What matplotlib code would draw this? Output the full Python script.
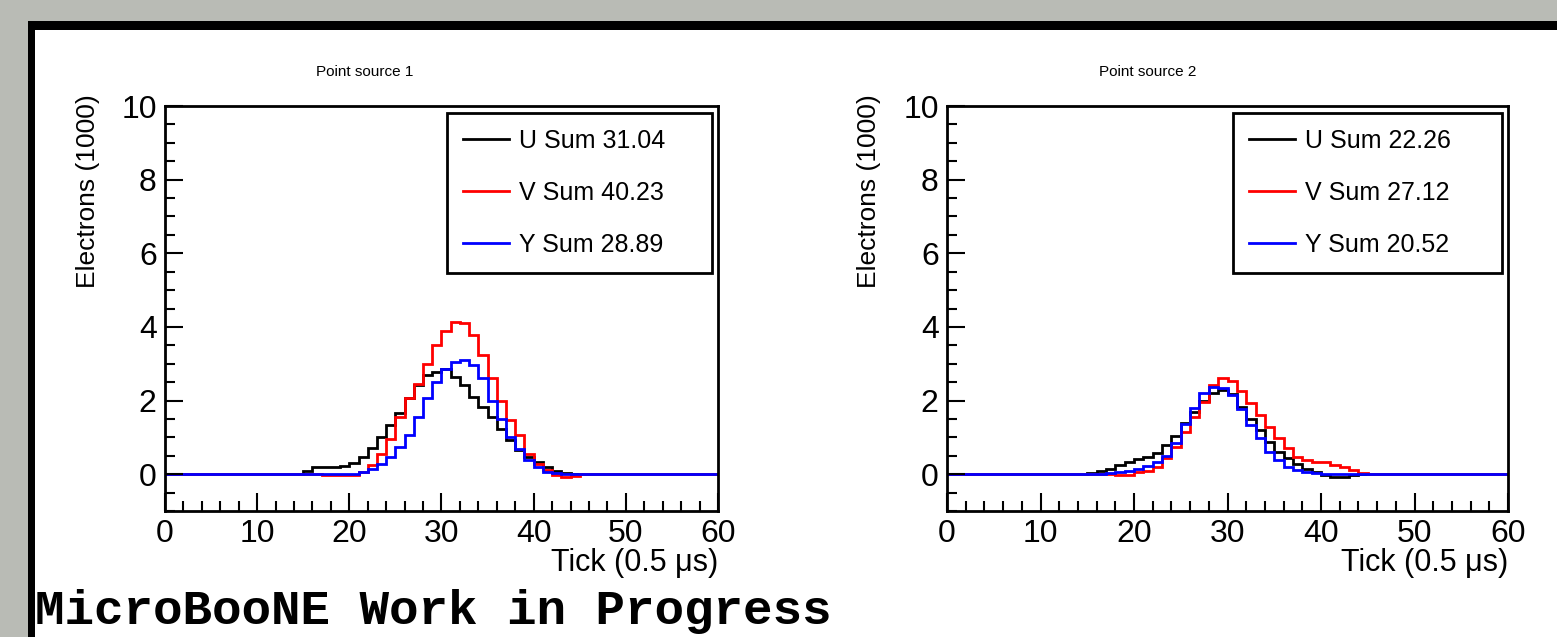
import numpy as np
import matplotlib
matplotlib.use('Agg')
import matplotlib.pyplot as plt
from matplotlib.patches import Rectangle
from matplotlib.lines import Line2D

plt.rcParams['font.family'] = ['Liberation Sans', 'DejaVu Sans']

# bin edges: ticks 0..60, one bin per tick
edges = np.arange(0, 61)

# Point source 1 (electrons / 1000), bins 15..44
ps1_start = 15
ps1_u = [0.10, 0.20, 0.20, 0.20, 0.22, 0.30, 0.47, 0.70, 1.00, 1.33,
         1.65, 2.06, 2.42, 2.69, 2.78, 2.85, 2.65, 2.42, 2.10, 1.83,
         1.56, 1.24, 0.92, 0.65, 0.47, 0.33, 0.20, 0.09, 0.03, 0.00]
ps1_v = [0.00, 0.00, -0.03, -0.03, -0.03, -0.03, 0.07, 0.24, 0.56, 0.95,
         1.55, 2.06, 2.45, 3.00, 3.50, 3.90, 4.14, 4.10, 3.78, 3.23,
         2.60, 2.00, 1.47, 1.06, 0.56, 0.29, 0.11, -0.03, -0.07, -0.05]
ps1_y = [0.00, 0.00, 0.00, 0.00, 0.00, 0.00, 0.05, 0.15, 0.29, 0.47,
         0.74, 1.06, 1.56, 2.06, 2.50, 2.87, 3.06, 3.10, 2.96, 2.60,
         2.00, 1.50, 1.00, 0.69, 0.38, 0.20, 0.06, 0.02, 0.00, 0.00]

# Point source 2, bins 15..44
ps2_start = 15
ps2_u = [0.03, 0.08, 0.15, 0.24, 0.32, 0.40, 0.48, 0.58, 0.78, 1.05,
         1.38, 1.70, 2.00, 2.20, 2.30, 2.19, 1.83, 1.51, 1.20, 0.88,
         0.60, 0.43, 0.29, 0.15, 0.06, -0.03, -0.07, -0.07, -0.03, 0.00]
ps2_v = [0.00, 0.00, 0.00, -0.02, -0.02, 0.05, 0.10, 0.20, 0.45, 0.75,
         1.15, 1.55, 1.95, 2.42, 2.60, 2.52, 2.25, 1.92, 1.60, 1.29,
         0.97, 0.70, 0.47, 0.38, 0.34, 0.32, 0.25, 0.20, 0.11, 0.03]
ps2_y = [0.00, 0.00, 0.02, 0.05, 0.10, 0.15, 0.22, 0.32, 0.50, 0.85,
         1.35, 1.80, 2.20, 2.37, 2.35, 2.15, 1.78, 1.33, 0.97, 0.60,
         0.38, 0.20, 0.11, 0.05, 0.03, 0.00, 0.00, 0.00, 0.00, 0.00]

sums1 = ['U Sum 31.04', 'V Sum 40.23', 'Y Sum 28.89']
sums2 = ['U Sum 22.26', 'V Sum 27.12', 'Y Sum 20.52']
titles = ['Point source 1', 'Point source 2']
colors = ['black', 'red', 'blue']


def full(vals, start):
    h = np.zeros(60)
    h[start:start + len(vals)] = vals
    return h


W, H = 1557, 637
fig = plt.figure(figsize=(W / 100, H / 100), dpi=100)
fig.patch.set_facecolor('#b9bbb5')
# black frame + white canvas
fig.patches.append(Rectangle((28 / W, -0.1), 1.2, 1 - 21 / H + 0.1,
                             transform=fig.transFigure, facecolor='black',
                             edgecolor='none', zorder=-10))
fig.patches.append(Rectangle((35 / W, -0.1), 1.2, 1 - 30 / H + 0.1,
                             transform=fig.transFigure, facecolor='white',
                             edgecolor='none', zorder=-9))

panels = [
    (165, 718, [ps1_u, ps1_v, ps1_y], ps1_start, sums1, 365),
    (947, 1508, [ps2_u, ps2_v, ps2_y], ps2_start, sums2, 1148),
]
ax_top, ax_bot = 106, 511

for i, (x0, x1, series, start, labels, tx) in enumerate(panels):
    ax = fig.add_axes([x0 / W, (H - ax_bot) / H, (x1 - x0) / W, (ax_bot - ax_top) / H])
    ax.set_facecolor('white')
    for vals, c in zip(series, colors):
        ax.stairs(full(vals, start), edges, color=c, lw=2.0)
    ax.set_xlim(0, 60)
    ax.set_ylim(-1, 10)
    ax.set_xticks(np.arange(0, 61, 10))
    ax.set_xticks(np.arange(0, 61, 2), minor=True)
    ax.set_yticks(np.arange(0, 11, 2))
    ax.set_yticks(np.arange(-1, 10.1, 0.5), minor=True)
    ax.tick_params(which='both', direction='in', width=1.5, labelsize=23,
                   top=False, right=False)
    ax.tick_params(which='major', length=13, pad=6)
    ax.tick_params(which='minor', length=7)
    for s in ax.spines.values():
        s.set_linewidth(2)
    ax.set_ylabel('Electrons (1000)', loc='top', fontsize=19)
    ax.yaxis.set_label_coords(-0.117, 1.03)
    ax.set_xlabel('Tick (0.5 \u03bcs)', loc='right', fontsize=22)
    ax.xaxis.set_label_coords(1.0, -0.129)
    ax.xaxis.label.set_va('center')
    handles = [Line2D([], [], color=c, lw=2.0) for c in colors]
    leg = ax.legend(handles, labels, loc='upper left',
                    bbox_to_anchor=(0.51, 0.59, 0.48, 0.393), mode='expand',
                    borderaxespad=0, fontsize=18, handlelength=1.84,
                    handletextpad=0.4, labelspacing=1.12, borderpad=0.65,
                    fancybox=False, framealpha=1, edgecolor='black')
    leg.get_frame().set_linewidth(2)
    fig.text(tx / W, 1 - 72 / H, titles[i], ha='center', va='center', fontsize=11)

fig.text(35 / W, 1 - 611 / H, 'MicroBooNE Work in Progress', ha='left', va='center',
         fontsize=35.5, fontweight='bold', family=['Liberation Mono', 'DejaVu Sans Mono'])

fig.savefig('out.png', dpi=100, facecolor=fig.get_facecolor())
